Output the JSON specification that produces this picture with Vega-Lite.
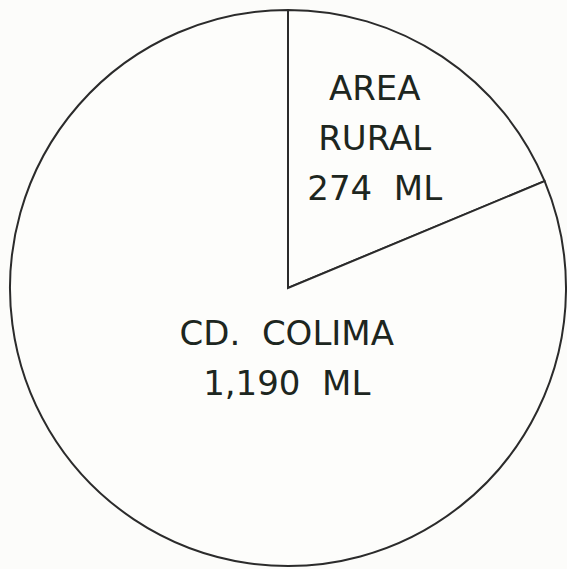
{
  "$schema": "https://vega.github.io/schema/vega-lite/v6.json",
  "width": 558,
  "height": 562,
  "padding": {"left": 9, "top": 7, "right": 0, "bottom": 0},
  "autosize": {"type": "none"},
  "background": "#fcfcfa",
  "config": {"view": {"stroke": null}},
  "data": {
    "values": [
      {"sector": "AREA RURAL", "valor": 274, "etiqueta": "AREA\nRURAL\n274\u00a0\u00a0ML"},
      {"sector": "CD. COLIMA", "valor": 1190, "etiqueta": "CD.\u00a0\u00a0COLIMA\n1,190\u00a0\u00a0ML"}
    ]
  },
  "layer": [
    {
      "mark": {"type": "arc", "radius": 278, "fill": "#fdfdfb", "stroke": "#2b2b2b", "strokeWidth": 2},
      "encoding": {
        "theta": {"field": "valor", "type": "quantitative", "stack": true},
        "order": {"field": "sector", "type": "nominal", "sort": "ascending"}
      }
    },
    {
      "mark": {"type": "text", "radius": 178, "dx": -12, "dy": -50, "font": "DejaVu Sans", "fontSize": 34, "lineHeight": 50, "lineBreak": "\n", "align": "center", "baseline": "middle", "color": "#1d2620"},
      "encoding": {
        "theta": {"field": "valor", "type": "quantitative", "stack": true},
        "order": {"field": "sector", "type": "nominal", "sort": "ascending"},
        "text": {"condition": {"test": "datum.sector === 'AREA RURAL'", "field": "etiqueta"}, "value": ""}
      }
    },
    {
      "mark": {"type": "text", "radius": 87, "dx": 47, "dy": -25, "font": "DejaVu Sans", "fontSize": 34, "lineHeight": 50, "lineBreak": "\n", "align": "center", "baseline": "middle", "color": "#1d2620"},
      "encoding": {
        "theta": {"field": "valor", "type": "quantitative", "stack": true},
        "order": {"field": "sector", "type": "nominal", "sort": "ascending"},
        "text": {"condition": {"test": "datum.sector === 'CD. COLIMA'", "field": "etiqueta"}, "value": ""}
      }
    }
  ]
}
